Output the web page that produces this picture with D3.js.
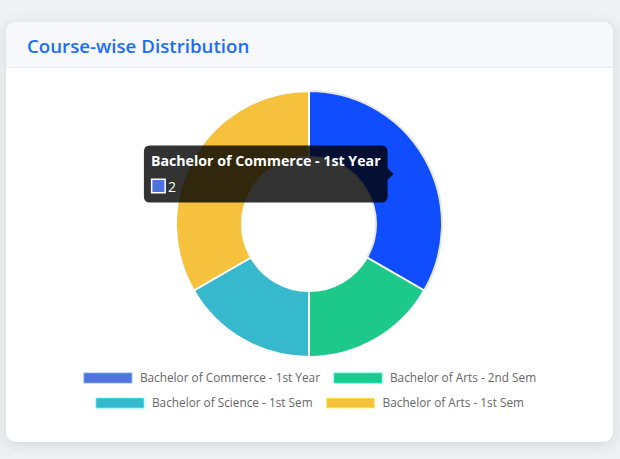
<!DOCTYPE html>
<html>
<head>
<meta charset="utf-8">
<script src="https://cdn.jsdelivr.net/npm/d3@7"></script>
<style>
  html, body { margin: 0; padding: 0; background: #eff0f4; }
  svg { display: block; }
</style>
</head>
<body>
<svg id="chart" width="620" height="459"></svg>
<script>
const title = "Course-wise Distribution";
const labels = [
  "Bachelor of Commerce - 1st Year",
  "Bachelor of Arts - 2nd Sem",
  "Bachelor of Science - 1st Sem",
  "Bachelor of Arts - 1st Sem"
];
const values = [2, 1, 1, 2];
const colors = ["#4e73df", "#1cc88a", "#36b9cc", "#f6c23e"];
const hoveredIndex = 0;

(function () {
const svg = d3.select("#chart");
const defs = svg.append("defs");

const f = defs.append("filter").attr("id", "shadow").attr("x", "-10%").attr("y", "-10%").attr("width", "120%").attr("height", "125%");
f.append("feDropShadow").attr("dx", 0).attr("dy", 3).attr("stdDeviation", 6).attr("flood-color", "#3a3b45").attr("flood-opacity", 0.15);

const card = { x: 6, y: 22, w: 607, h: 420, r: 10, head: 45 };
svg.append("rect").attr("x", card.x).attr("y", card.y).attr("width", card.w).attr("height", card.h)
  .attr("rx", card.r).attr("fill", "#fff").attr("filter", "url(#shadow)");

const clip = defs.append("clipPath").attr("id", "cardClip");
clip.append("rect").attr("x", card.x).attr("y", card.y).attr("width", card.w).attr("height", card.h).attr("rx", card.r);
svg.append("rect").attr("clip-path", "url(#cardClip)")
  .attr("x", card.x).attr("y", card.y).attr("width", card.w).attr("height", card.head)
  .attr("fill", "#f7f8fc");
svg.append("line").attr("x1", card.x).attr("x2", card.x + card.w)
  .attr("y1", card.y + card.head + 0.5).attr("y2", card.y + card.head + 0.5)
  .attr("stroke", "#e9ebf2").attr("stroke-width", 1);

svg.append("text").attr("x", 27).attr("y", 53)
  .attr("font-family", "'Open Sans', sans-serif").attr("font-size", 18.7).attr("font-weight", 600)
  .attr("fill", "#1a6dfc").text(title);

const cx = 309, cy = 224, outerR = 133, innerR = 67;
const pie = d3.pie().sort(null).value(d => d);
const arcs = pie(values);
const arc = d3.arc().innerRadius(innerR).outerRadius(outerR);

function hoverColor(c) {
  const h = d3.hsl(c);
  h.s = Math.min(1, h.s * 1.5);
  h.l = h.l * 0.9;
  return h.formatHex();
}

const g = svg.append("g").attr("transform", `translate(${cx},${cy})`);
g.selectAll("path").data(arcs).join("path")
  .attr("d", arc)
  .attr("fill", (d, i) => i === hoveredIndex ? hoverColor(colors[i]) : colors[i])
  .attr("stroke", (d, i) => i === hoveredIndex ? "#e6e6e6" : "#fff")
  .attr("stroke-width", 2)
  .attr("stroke-linejoin", "bevel");

const legendFont = "'Open Sans', sans-serif";
const legendSize = 11.8;
const boxW = 48, boxH = 10, boxGap = 8, itemGap = 14, maxRow = 560;
const measure = svg.append("text").attr("font-family", legendFont).attr("font-size", legendSize).attr("visibility", "hidden");
const items = labels.map((l, i) => {
  measure.text(l);
  const tw = measure.node().getComputedTextLength();
  return { label: l, color: colors[i], tw, w: boxW + boxGap + tw };
});
measure.remove();
const rows = [];
let cur = [], curW = 0;
items.forEach(it => {
  const add = (cur.length ? itemGap : 0) + it.w;
  if (cur.length && curW + add > maxRow) { rows.push(cur); cur = []; curW = 0; }
  curW += (cur.length ? itemGap : 0) + it.w;
  cur.push(it);
});
if (cur.length) rows.push(cur);

const legend = svg.append("g");
const rowYs = [378, 403];
rows.forEach((row, ri) => {
  const total = d3.sum(row, d => d.w) + itemGap * (row.length - 1);
  let x = cx + 1 - total / 2;
  const y = rowYs[ri];
  row.forEach(it => {
    legend.append("rect").attr("x", x).attr("y", y - boxH / 2).attr("width", boxW).attr("height", boxH)
      .attr("fill", it.color).attr("stroke", d3.color(it.color).brighter(1.2)).attr("stroke-width", 0.8);
    legend.append("text").attr("x", x + boxW + boxGap).attr("y", y + 4.3)
      .attr("font-family", legendFont).attr("font-size", legendSize).attr("fill", "#666").text(it.label);
    x += it.w + itemGap;
  });
});

const c = arc.centroid(arcs[hoveredIndex]);
const tipX = cx + c[0] - 2, tipY = cy + c[1];
const caret = 6, pad = 7;
const tt = svg.append("g");
const tTitle = tt.append("text").attr("font-family", "'Open Sans', sans-serif").attr("font-size", 14.2)
  .attr("font-weight", 700).attr("fill", "#fff").text(labels[hoveredIndex]);
const titleW = tTitle.node().getComputedTextLength();
const tw = titleW + pad * 2, th = 57;
const rgt = tipX - caret, lft = rgt - tw, tp = tipY - th / 2;
tt.insert("path", "text")
  .attr("d", `M${lft + 6},${tp} H${rgt - 6} Q${rgt},${tp} ${rgt},${tp + 6} V${tipY - caret} L${tipX},${tipY} L${rgt},${tipY + caret} V${tp + th - 6} Q${rgt},${tp + th} ${rgt - 6},${tp + th} H${lft + 6} Q${lft},${tp + th} ${lft},${tp + th - 6} V${tp + 6} Q${lft},${tp} ${lft + 6},${tp} Z`)
  .attr("fill", "rgba(0,0,0,0.8)");
tTitle.attr("x", lft + pad).attr("y", tp + 20);
tt.append("rect").attr("x", lft + pad).attr("y", tp + 33).attr("width", 15).attr("height", 15)
  .attr("fill", "#fff");
tt.append("rect").attr("x", lft + pad + 1.5).attr("y", tp + 34.5).attr("width", 12).attr("height", 12)
  .attr("fill", colors[hoveredIndex]);
tt.append("text").attr("x", lft + pad + 17).attr("y", tp + 46)
  .attr("font-family", "'Open Sans', sans-serif").attr("font-size", 14).attr("fill", "#fff")
  .text(values[hoveredIndex]);
})();
</script>
</body>
</html>
